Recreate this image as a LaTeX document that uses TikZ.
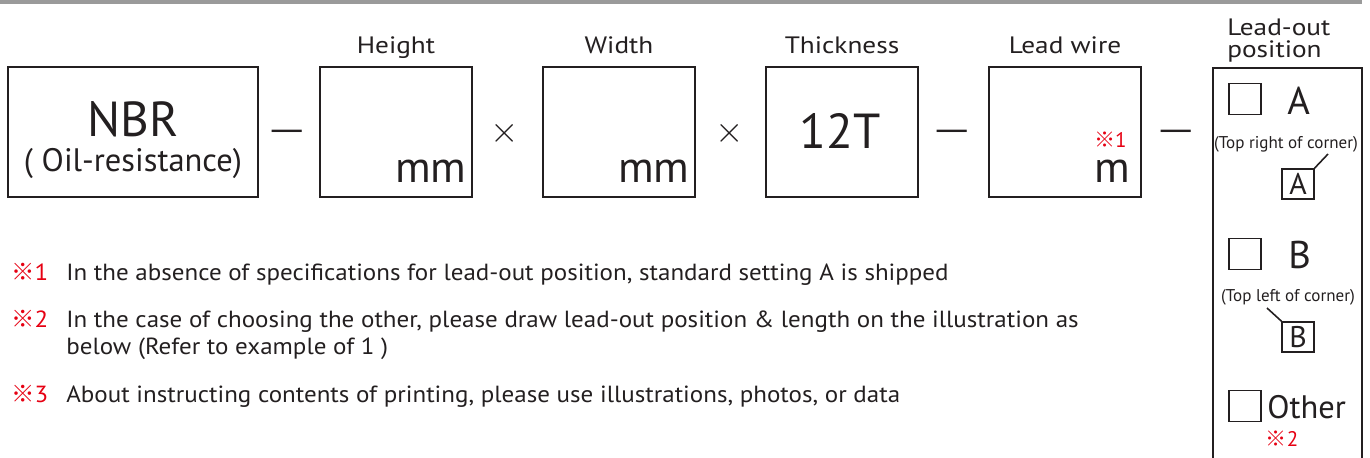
\documentclass[tikz,border=0pt]{standalone}
\usepackage{fontspec}
\setmainfont{PT Sans}
\newfontfamily\widefont{PT Sans}[FakeStretch=1.15]
\newfontfamily\notefont{PT Sans}[FakeStretch=1.07]
\newfontfamily\cjk{Noto Sans CJK JP}
\newfontfamily\dashfont{DejaVu Sans}
\usetikzlibrary{positioning}
\definecolor{ink}{HTML}{231F20}
\definecolor{notered}{HTML}{E60012}
\definecolor{bargray}{HTML}{9A9A9A}
\newcommand{\refsign}[1]{\textcolor{notered}{{\cjk ※}#1}}

\begin{document}
\begin{tikzpicture}[x=0.02cm,y=-0.02cm,text=ink,inner sep=0pt,
	field/.style={draw=ink,line width=1.3pt,minimum width=3.04cm,minimum height=2.6cm},
	head/.style={font=\widefont\fontsize{13.5}{15}\selectfont},
	unitlbl/.style={anchor=base east,font=\fontsize{25}{28}\selectfont},
	dashsep/.style={anchor=base,font=\dashfont\fontsize{19}{21}\selectfont},
	timessep/.style={anchor=base,font=\fontsize{20}{22}\selectfont},
	tickbox/.style={draw=ink,line width=1.1pt,minimum width=0.64cm,minimum height=0.62cm},
	choice/.style={anchor=base west,font=\fontsize{22}{25}\selectfont},
	hint/.style={anchor=base,font=\fontsize{9.7}{11}\selectfont},
	tag/.style={draw=ink,line width=0.9pt,minimum width=0.63cm,minimum height=0.6cm,font=\fontsize{17}{19}\selectfont},
	note/.style={anchor=base west,font=\notefont\fontsize{13.3}{15}\selectfont}]

	\useasboundingbox (0,0) rectangle (1370,457);
	\fill[bargray] (0,0) rectangle (1362,4);

	% material
	\node[field,minimum width=5cm] (nbr) at (133,132) {};
	\node[anchor=base,font=\fontsize{28}{31}\selectfont] (nbrtxt) at (133,136) {NBR};
	\node[anchor=base,font=\fontsize{18.5}{21}\selectfont] (oil) at (133,171) {( Oil-resistance)};
	\node[dashsep] (d1) at (287,140) {—};

	% height
	\node[field] (hgt) at (396,132) {};
	\node[head,anchor=base] (hgtlbl) at (396,53) {Height};
	\node[unitlbl] (hgtmm) at (467,182) {mm};
	\node[timessep] (x1) at (505,142) {$\times$};

	% width
	\node[field] (wid) at (619,132) {};
	\node[head,anchor=base] (widlbl) at (619,53) {Width};
	\node[unitlbl] (widmm) at (690,182) {mm};
	\node[timessep] (x2) at (730,142) {$\times$};

	% thickness
	\node[field] (thk) at (842,132) {};
	\node[head,anchor=base] (thklbl) at (842,53) {Thickness};
	\node[anchor=base,font=\fontsize{28}{31}\selectfont] (thktxt) at (840,148) {12T};
	\node[dashsep] (d2) at (952,140) {—};

	% lead wire
	\node[field] (lead) at (1065,132) {};
	\node[head,anchor=base] (leadlbl) at (1065,53) {Lead wire};
	\node[anchor=base east,font=\fontsize{12}{14}\selectfont] (leadref) at (1127,147) {\refsign{1}};
	\node[unitlbl] (leadm) at (1131,182) {m};
	\node[dashsep] (d3) at (1176,140) {—};

	% lead-out position
	\node[head,anchor=base west] (poslbl) at (1227,35) {Lead-out};
	\node[head,anchor=base west] (poslbl2) at (1227,57) {position};
	\draw[ink,line width=1.3pt] (1213,458) -- (1213,68) -- (1362,68) -- (1362,458);

	\node[tickbox] (ckA) at (1245,99) {};
	\node[choice] (optA) at (1287,114) {A};
	\node[hint] (hintA) at (1286,148) {(Top right of corner)};
	\node[tag] (tagA) at (1298,184) {A};
	\coordinate (wireA) at (1328,154);
	\draw[ink,line width=0.9pt] (tagA.north east) -- (wireA);

	\node[tickbox] (ckB) at (1245,254) {};
	\node[choice] (optB) at (1288,268) {B};
	\node[hint] (hintB) at (1288,301) {(Top left of corner)};
	\node[tag] (tagB) at (1298,337) {B};
	\coordinate (wireB) at (1267,308);
	\draw[ink,line width=0.9pt] (tagB.north west) -- (wireB);

	\node[tickbox] (ckO) at (1245,406) {};
	\node[choice,font=\fontsize{18.5}{21}\selectfont] (optO) at (1267,418) {Other};
	\node[anchor=base,font=\fontsize{12}{14}\selectfont] (otherref) at (1282,446) {\refsign{2}};

	% notes
	\node[note] (n1mark) at (11,280) {\refsign{1}};
	\node[note] (n1) at (66,280) {In the absence of specifications for lead-out position, standard setting A is shipped};
	\node[note] (n2mark) at (11,327) {\refsign{2}};
	\node[note] (n2) at (66,327) {In the case of choosing the other, please draw lead-out position \& length on the illustration as};
	\node[note] (n2b) at (66,354) {below (Refer to example of 1 )};
	\node[note] (n3mark) at (11,402) {\refsign{3}};
	\node[note] (n3) at (66,402) {About instructing contents of printing, please use illustrations, photos, or data};
\end{tikzpicture}
\end{document}
